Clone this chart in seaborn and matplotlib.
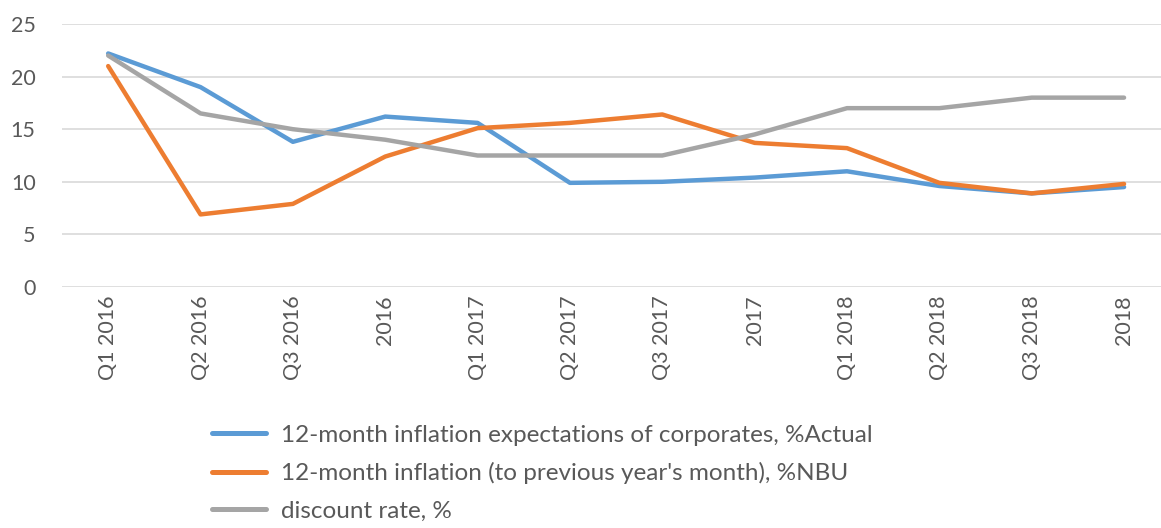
import matplotlib
matplotlib.use("Agg")
import matplotlib.pyplot as plt
import seaborn as sns
import pandas as pd
from matplotlib.lines import Line2D

categories = ["Q1 2016", "Q2 2016", "Q3 2016", "2016", "Q1 2017", "Q2 2017",
              "Q3 2017", "2017", "Q1 2018", "Q2 2018", "Q3 2018", "2018"]
expectations = [22.2, 19.0, 13.8, 16.2, 15.6, 9.9, 10.0, 10.4, 11.0, 9.6, 8.9, 9.5]
inflation = [21.0, 6.9, 7.9, 12.4, 15.1, 15.6, 16.4, 13.7, 13.2, 9.9, 8.9, 9.8]
discount = [22.0, 16.5, 15.0, 14.0, 12.5, 12.5, 12.5, 14.5, 17.0, 17.0, 18.0, 18.0]
series_names = ["12-month inflation expectations of corporates, %Actual",
                "12-month inflation (to previous year's month), %NBU",
                "discount rate, %"]
colors = ["#5B9BD5", "#ED7D31", "#A5A5A5"]
y_ticks = [0, 5, 10, 15, 20, 25]

sns.set_theme(style="white")
plt.rcParams['font.family'] = ['Lato', 'DejaVu Sans']

rows = []
for name, vals in zip(series_names, [expectations, inflation, discount]):
    for i, (c, v) in enumerate(zip(categories, vals)):
        rows.append({"idx": i, "category": c, "value": v, "series": name})
df = pd.DataFrame(rows)

fig = plt.figure(figsize=(11.61, 5.28), dpi=100)
ax = fig.add_axes([62/1161, 1-287/528, 1-62/1161, (287-24)/528])

sns.lineplot(data=df, x="idx", y="value", hue="series", hue_order=series_names,
             palette=colors, linewidth=3.2, ax=ax, legend=False, sort=False)
for ln in ax.lines:
    ln.set_solid_capstyle("round")
    ln.set_solid_joinstyle("round")

ax.set_xlim(-0.5, 11.4)
ax.set_ylim(0, 25)
ax.set_yticks(y_ticks)
ax.set_xticks(range(len(categories)))
ax.set_xticklabels(categories, rotation=90)
ax.set_xlabel("")
ax.set_ylabel("")
ax.grid(axis="y", color="#D9D9D9", linewidth=1.2)
ax.set_axisbelow(True)
for s in ax.spines.values():
    s.set_visible(False)
ax.tick_params(axis="both", length=0, labelsize=15.5, colors="#595959", pad=6)
ax.tick_params(axis="y", pad=19)

handles = [Line2D([0], [0], color=c, linewidth=3.6, solid_capstyle="round") for c in colors]
leg = fig.legend(handles, series_names, loc="upper left",
                 bbox_to_anchor=(202/1161, 1-415/528), frameon=False,
                 fontsize=17.5, handlelength=2.25, handletextpad=0.6,
                 labelspacing=0.68, labelcolor="#595959", borderaxespad=0)

fig.savefig("out.png", dpi=100)
